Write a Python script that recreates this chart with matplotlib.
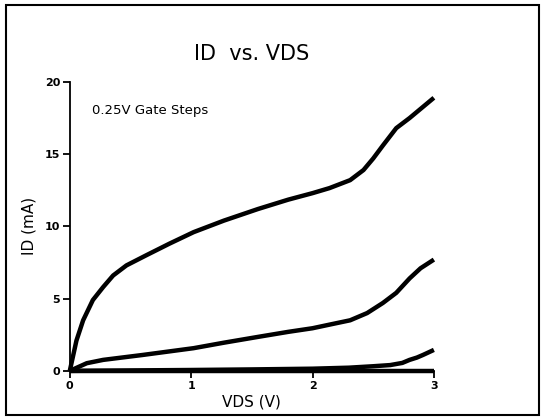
import matplotlib
matplotlib.use("Agg")
import matplotlib.pyplot as plt
from matplotlib.patches import Rectangle

# Data (VDS in V, ID in mA)
vds_top = [0.0, 0.055, 0.11, 0.19, 0.275, 0.357, 0.467, 0.63, 0.82, 1.02, 1.27, 1.55, 1.8, 2.0, 2.14,
           2.31, 2.42, 2.5, 2.58, 2.69, 2.8, 2.9, 3.0]
id_top = [0.0, 2.1, 3.5, 4.9, 5.8, 6.6, 7.3, 8.0, 8.8, 9.6, 10.4, 11.2, 11.85, 12.3, 12.65,
          13.2, 13.9, 14.7, 15.6, 16.8, 17.5, 18.2, 18.9]

vds_mid = [0.0, 0.14, 0.275, 0.6, 1.02, 1.27, 1.55, 1.8, 2.0, 2.14, 2.31, 2.45, 2.58, 2.69, 2.8, 2.89, 3.0]
id_mid = [0.0, 0.53, 0.76, 1.1, 1.57, 1.95, 2.35, 2.7, 2.95, 3.2, 3.5, 4.0, 4.7, 5.4, 6.4, 7.1, 7.7]

vds_low = [0.0, 0.5, 1.0, 1.5, 2.0, 2.3, 2.5, 2.64, 2.74, 2.8, 2.86, 2.91, 3.0]
id_low = [0.0, 0.03, 0.06, 0.1, 0.15, 0.22, 0.32, 0.4, 0.55, 0.76, 0.92, 1.1, 1.45]

vds_off = [0.0, 1.0, 2.0, 3.0]
id_off = [0.0, 0.0, 0.0, 0.0]

xticks = [0, 1, 2, 3]
yticks = [0, 5, 10, 15, 20]

fig = plt.figure(figsize=(5.41, 4.20), dpi=100)
ax = fig.add_axes([0.129, 0.117, 0.673, 0.688])

for x, y in [(vds_off, id_off), (vds_low, id_low), (vds_mid, id_mid), (vds_top, id_top)]:
    ax.plot(x, y, color="black", lw=3.2, solid_capstyle="butt", solid_joinstyle="round", clip_on=False)

ax.set_xlim(0, 3)
ax.set_ylim(0, 20)
ax.set_xticks(xticks)
ax.set_yticks(yticks)
ax.spines["top"].set_visible(False)
ax.spines["right"].set_visible(False)
for s in ("left", "bottom"):
    ax.spines[s].set_linewidth(1.3)
ax.tick_params(axis="both", direction="out", length=5, width=1.3, labelsize=8, pad=2)
for lab in ax.get_xticklabels() + ax.get_yticklabels():
    lab.set_fontweight("bold")

ax.set_xlabel("VDS (V)", fontsize=11, labelpad=3)
ax.set_ylabel("ID (mA)", fontsize=11, labelpad=6)
ax.set_title("ID  vs. VDS", fontsize=15, pad=16)
ax.text(0.18, 17.8, "0.25V Gate Steps", fontsize=9.5)

fig.patches.append(Rectangle((0.012, 0.012), 0.984, 0.976, transform=fig.transFigure,
                             fill=False, edgecolor="black", lw=1.5))

fig.savefig("out.png", dpi=100)
